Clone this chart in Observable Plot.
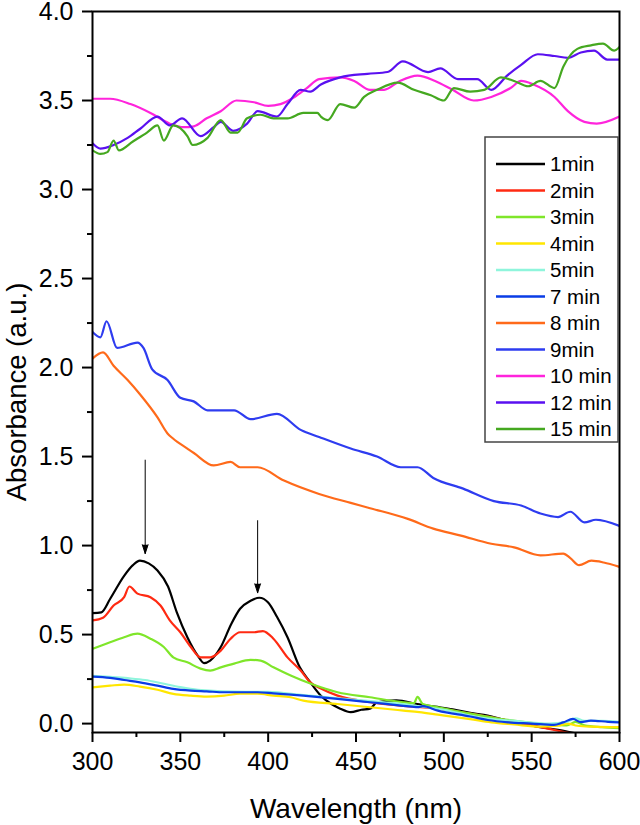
<!DOCTYPE html>
<html>
<head>
<meta charset="utf-8">
<script src="https://cdn.jsdelivr.net/npm/d3@7"></script>
<script src="https://cdn.jsdelivr.net/npm/@observablehq/plot@0.6"></script>
<style>
  html, body { margin: 0; padding: 0; background: #fff; }
  #chart { width: 640px; height: 825px; }
</style>
</head>
<body>
<div id="chart"></div>
<script>
// ---------- data ----------
const seriesNames  = ["1min", "2min", "3min", "4min", "5min", "7 min", "8 min", "9min", "10 min", "12 min", "15 min"];
const seriesColors = ["#000000", "#ff2a12", "#7fe62a", "#ffe600", "#8ff5dc", "#0a3ce6", "#ff6a1a", "#2e3cf0", "#ff24dc", "#5a10f0", "#45a820"];

const wave_1min = [300,305,310,318,323,327,332,337,343,348,354,360,363.5,367,373,379,384,390,395,400,405,411,418,424,430,436,441,447,453,458,462,473,485,495,505,515,525,535,545,555,565,575];
const abs_1min  = [0.62,0.625,0.70,0.83,0.89,0.915,0.90,0.86,0.77,0.625,0.485,0.38,0.34,0.354,0.43,0.56,0.645,0.69,0.707,0.68,0.60,0.485,0.316,0.232,0.157,0.11,0.084,0.064,0.078,0.084,0.12,0.13,0.11,0.095,0.08,0.06,0.045,0.02,0.0,-0.02,-0.035,-0.055];

const wave_2min = [300,306,312,318,321,325.6,333,338.7,344,350,356,361.5,367,373,378.6,384,391.7,397,403,411,418.5,424,430,439.5,458,477,496.6,515,530,545,555,565,575];
const abs_2min  = [0.58,0.595,0.663,0.71,0.77,0.73,0.71,0.663,0.58,0.513,0.43,0.372,0.372,0.41,0.477,0.513,0.513,0.52,0.477,0.372,0.298,0.232,0.197,0.157,0.12,0.10,0.084,0.056,0.03,0.0,-0.02,-0.04,-0.06];

const wave_3min = [300,310,318,325.6,333,340.6,346,354,361.5,367,373,380.6,390,395.7,403,412.8,424,430,439.5,458,477,483,485,488,496.6,515,530,545,560,570,575,580,590,600];
const abs_3min  = [0.42,0.457,0.485,0.505,0.477,0.43,0.372,0.344,0.309,0.298,0.316,0.337,0.358,0.354,0.316,0.27,0.225,0.204,0.176,0.148,0.12,0.115,0.15,0.11,0.092,0.056,0.03,0.01,-0.005,-0.01,0.01,-0.01,-0.02,-0.025];

const wave_4min = [300,310,318,327,337,346,356,365,375,384,394,403,412.8,420,439.5,458,477,486,496.6,515,527,540,555,565,570.5,576,584,600];
const abs_4min  = [0.204,0.213,0.219,0.208,0.19,0.167,0.157,0.152,0.157,0.168,0.168,0.157,0.148,0.129,0.11,0.092,0.073,0.064,0.05,0.025,0.007,-0.005,-0.017,-0.012,0.0,-0.012,-0.017,-0.02];

const wave_5min = [300,310,320,330,340,350,360,380,400,420,440,460,480,500,520,540,560,570,575,580,590,600];
const abs_5min  = [0.268,0.262,0.255,0.245,0.225,0.205,0.19,0.18,0.178,0.16,0.142,0.125,0.105,0.078,0.035,0.015,0.0,0.01,0.03,0.015,0.015,0.01];

const wave_7min = [300,310,318,327,337,346,356,365,375,384,394,403,412.8,420,439.5,458,477,482,485,488,496.6,515,525,536.5,550,562.7,568,573.5,578,583.7,593.5,600];
const abs_7min  = [0.264,0.257,0.245,0.232,0.213,0.195,0.185,0.181,0.176,0.176,0.176,0.17,0.163,0.157,0.139,0.12,0.10,0.095,0.092,0.098,0.073,0.04,0.02,0.007,0.0,-0.007,0.007,0.026,0.008,0.017,0.01,0.007];

const wave_8min = [300,306,312,320,327,337,342.7,346,354,357.7,369,378.6,384,394,409,429,447,458,479.5,494,509.7,527,540,555,568,572,577,584,591,600];
const abs_8min  = [2.05,2.085,2.01,1.93,1.85,1.72,1.63,1.60,1.545,1.52,1.45,1.47,1.44,1.44,1.365,1.29,1.24,1.21,1.15,1.095,1.056,1.01,0.99,0.945,0.955,0.93,0.89,0.915,0.905,0.88];

const wave_9min = [300,304.5,308,314,325.6,329,334,342.7,350,357.6,365.5,380.6,390,405,418.5,429,447,462,475.5,485,494,511,528.5,544,555,565,572,580,586.6,600];
const abs_9min  = [2.20,2.17,2.26,2.11,2.14,2.11,1.99,1.93,1.83,1.81,1.76,1.76,1.71,1.74,1.65,1.61,1.545,1.50,1.44,1.44,1.38,1.32,1.25,1.225,1.18,1.16,1.19,1.13,1.145,1.11];

const wave_10min = [300,310,321.6,333,344,352,357.7,365,373,382,392,400,407,415,422,429,441,449,458,466,475,485,495,505,517,527,538,544,551,563,570.6,580,587,600];
const abs_10min  = [3.51,3.51,3.48,3.43,3.37,3.35,3.355,3.40,3.44,3.50,3.49,3.47,3.48,3.52,3.57,3.62,3.63,3.61,3.56,3.56,3.61,3.64,3.61,3.56,3.50,3.52,3.57,3.61,3.59,3.52,3.44,3.38,3.37,3.41];

const wave_12min = [300,304.5,312,320,327,337,344,351,361.5,369,373,380,388,394,405,411,418.5,424,430,441,456.5,468,476.6,491,498,508,519,527,536,544,553.5,563,570.6,578,585.5,593,600];
const abs_12min  = [3.26,3.23,3.25,3.29,3.34,3.41,3.36,3.40,3.30,3.35,3.38,3.33,3.37,3.44,3.41,3.48,3.56,3.55,3.59,3.63,3.65,3.66,3.72,3.66,3.68,3.62,3.62,3.56,3.64,3.70,3.76,3.75,3.74,3.77,3.78,3.73,3.73];

const wave_15min = [300,304.5,308.5,312,315,323,331,337,340.6,346,354,357,365.5,373,378.6,382.6,388,395.7,403,411,420,428,430,434,441,449,454.6,462,473.8,483,492.6,500,505.7,515,523,532.5,540,548,555,563,568,576,583.8,590.6,597,600];
const abs_15min  = [3.22,3.20,3.21,3.275,3.22,3.27,3.32,3.36,3.275,3.36,3.30,3.25,3.29,3.39,3.32,3.32,3.40,3.42,3.40,3.40,3.43,3.43,3.41,3.39,3.48,3.46,3.52,3.56,3.60,3.56,3.53,3.50,3.57,3.55,3.56,3.63,3.61,3.58,3.61,3.57,3.69,3.79,3.81,3.82,3.78,3.80];

const waves = [wave_1min, wave_2min, wave_3min, wave_4min, wave_5min, wave_7min, wave_8min, wave_9min, wave_10min, wave_12min, wave_15min];
const absorb = [abs_1min, abs_2min, abs_3min, abs_4min, abs_5min, abs_7min, abs_8min, abs_9min, abs_10min, abs_12min, abs_15min];

// tick values
const xMajor = [300, 350, 400, 450, 500, 550, 600];
const xMinor = [325, 375, 425, 475, 525, 575];
const yMajor = [0, 0.5, 1.0, 1.5, 2.0, 2.5, 3.0, 3.5, 4.0];
const yMinor = [0.25, 0.75, 1.25, 1.75, 2.25, 2.75, 3.25, 3.75];

// arrows marking the peaks (wavelength, start absorbance, tip absorbance)
const arrowWave = [330, 394];
const arrowFrom = [1.48, 1.14];
const arrowTo   = [0.955, 0.735];

const xLabel = "Wavelength (nm)";
const yLabel = "Absorbance (a.u.)";

// ---------- build table ----------
const rows = seriesNames.flatMap((s, i) => waves[i].map((w, j) => ({series: s, wl: w, abs: absorb[i][j]})));
const arrows = arrowWave.map((w, i) => ({wl: w, from: arrowFrom[i], to: arrowTo[i]}));

const font = "'Liberation Sans', Arial, Helvetica, sans-serif";

const chart = Plot.plot({
  width: 640,
  height: 825,
  marginLeft: 92,
  marginRight: 21,
  marginTop: 11,
  marginBottom: 93,
  style: {fontFamily: font, background: "#fff", color: "#000"},
  x: {domain: [300, 600]},
  y: {domain: [-0.05, 4.0]},
  color: {domain: seriesNames, range: seriesColors},
  marks: [
    Plot.line(rows, {x: "wl", y: "abs", z: "series", stroke: "series", strokeWidth: 2.2, curve: "monotone-x", clip: true}),
    Plot.arrow(arrows, {x1: "wl", y1: "from", x2: "wl", y2: "to", stroke: "#000", fill: "#000", strokeWidth: 1, headLength: 14, headAngle: 36}),
    Plot.frame({stroke: "#000", strokeWidth: 2}),
    Plot.axisX(xMajor, {tickSize: 10, tickPadding: 10, strokeWidth: 2, stroke: "#000", fontSize: 25, tickFormat: d => String(d), label: null}),
    Plot.axisX(xMinor, {tickSize: 5, strokeWidth: 2, stroke: "#000", tickFormat: () => "", label: null}),
    Plot.axisY(yMajor, {tickSize: 10, tickPadding: 9, strokeWidth: 2, stroke: "#000", fontSize: 25, tickFormat: d => d.toFixed(1), label: null}),
    Plot.axisY(yMinor, {tickSize: 5, strokeWidth: 2, stroke: "#000", tickFormat: () => "", label: null})
  ]
});

document.getElementById("chart").appendChild(chart);

// ---------- axis titles & legend ----------
const svg = d3.select(chart);
svg.append("text")
  .attr("x", 356).attr("y", 818)
  .attr("text-anchor", "middle")
  .attr("font-family", font).attr("font-size", 28).attr("fill", "#000")
  .text(xLabel);
svg.append("text")
  .attr("transform", "translate(26,392) rotate(-90)")
  .attr("text-anchor", "middle")
  .attr("font-family", font).attr("font-size", 27.5).attr("fill", "#000")
  .text(yLabel);

const lg = svg.append("g").attr("class", "legend");
lg.append("rect")
  .attr("x", 485).attr("y", 137).attr("width", 133).attr("height", 305)
  .attr("fill", "#fff").attr("stroke", "#444").attr("stroke-width", 1.5);
seriesNames.forEach((s, i) => {
  const cy = 164 + i * 26.5;
  lg.append("line")
    .attr("x1", 496).attr("x2", 545).attr("y1", cy).attr("y2", cy)
    .attr("stroke", seriesColors[i]).attr("stroke-width", 2.6);
  lg.append("text")
    .attr("x", 550).attr("y", cy).attr("dy", "0.36em")
    .attr("text-anchor", "start")
    .attr("font-family", font).attr("font-size", 20.5).attr("fill", "#000")
    .text(s);
});
</script>
</body>
</html>
